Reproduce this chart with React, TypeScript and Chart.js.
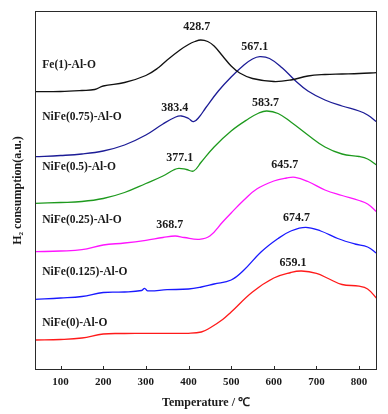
import React, { useEffect, useRef } from "react";
import { Chart, registerables } from "chart.js";

Chart.register(...registerables);

// Temperature (°C) samples and H2 signal (a.u., stacked offsets) for each sample
const fe1T = [40, 100, 150, 180, 200, 250, 300, 330, 350, 380, 400, 415, 428.7, 445, 460, 480, 500, 520, 550, 600, 640, 680, 720, 760, 800, 841];
const fe1V = [278.3, 278.5, 279.5, 280.5, 284, 287.5, 294.5, 302.5, 310, 320, 325.5, 328.5, 330, 328.5, 324, 314, 304, 297, 291.5, 288.5, 290, 294, 295.5, 296, 296.5, 297.3];

const nf075T = [40, 100, 150, 200, 250, 300, 340, 370, 383.4, 400, 412, 425, 440, 470, 500, 530, 550, 567.1, 590, 620, 650, 680, 720, 760, 800, 820, 841];
const nf075V = [213.3, 214.5, 216, 219, 225, 235, 246, 253, 254, 251.5, 248.3, 253, 262, 279, 293, 305, 311, 313.3, 311.5, 302, 289.5, 279, 270, 264, 259, 255, 248.3];

const nf05T = [40, 100, 150, 200, 250, 300, 340, 365, 377.1, 395, 412, 430, 460, 500, 540, 565, 583.7, 610, 640, 680, 720, 760, 800, 820, 841];
const nf05V = [166.7, 167.5, 168.5, 171.5, 177.5, 186.5, 194, 200, 201.7, 200.5, 199, 208, 223, 239, 251, 257, 259, 256.5, 248, 235, 223, 216, 213.5, 211, 205];

const nf025T = [40, 100, 150, 200, 250, 300, 340, 368.7, 390, 425, 450, 480, 500, 530, 560, 600, 630, 650, 680, 720, 760, 800, 820, 841];
const nf025V = [118.3, 119, 120.3, 125, 127, 129.7, 132.5, 134, 132.5, 130.7, 134, 148, 157, 170, 181, 189, 192, 192.7, 188.5, 180, 174.5, 169.5, 166, 158.3];

const nf0125T = [40, 100, 150, 200, 250, 290, 297, 304, 350, 400, 430, 460, 500, 530, 570, 610, 640, 674.7, 710, 750, 790, 820, 841];
const nf0125V = [70.7, 72, 73.5, 77.5, 78, 79.5, 81.7, 79.2, 80.3, 81, 83, 86, 90, 100, 118, 131.5, 139, 142.7, 139, 131.5, 126, 123, 116.7];

const nf0T = [40, 100, 150, 200, 250, 300, 350, 400, 430, 450, 480, 500, 550, 600, 640, 665, 700, 730, 760, 800, 820, 841];
const nf0V = [30, 30.5, 32, 36, 36.5, 36.7, 36.7, 36.7, 38, 42, 50.5, 58, 78, 92, 97.5, 99, 96.6, 91, 85.5, 83.8, 81, 71.7];

const seriesNames = ["Fe(1)-Al-O", "NiFe(0.75)-Al-O", "NiFe(0.5)-Al-O", "NiFe(0.25)-Al-O", "NiFe(0.125)-Al-O", "NiFe(0)-Al-O"];
const peakLabels = ["428.7", "567.1", "383.4", "583.7", "377.1", "645.7", "368.7", "674.7", "659.1"];
const xTickValues = [100, 200, 300, 400, 500, 600, 700, 800];

const colors = ["#111111", "#1c1c96", "#1e9a1e", "#ff14ff", "#1a1aff", "#ff1a1a"];

const FONT = "'Liberation Serif', 'Times New Roman', serif";
const TEXT = "#1a1a1a";

function pts(t: number[], v: number[]) {
  return t.map((x, i) => ({ x, y: v[i] }));
}

// label anchors (data units)
const nameAnchors = [
  { x: 57, y: 305 },
  { x: 57, y: 253 },
  { x: 57, y: 203.3 },
  { x: 57, y: 150 },
  { x: 57, y: 98.3 },
  { x: 57, y: 46.7 },
];
const peakAnchors = [
  { x: 419.4, y: 343.3 },
  { x: 555.4, y: 323.3 },
  { x: 367.9, y: 261.7 },
  { x: 580.4, y: 266.7 },
  { x: 379.6, y: 211.7 },
  { x: 625.7, y: 205 },
  { x: 356.2, y: 145 },
  { x: 653.1, y: 151.7 },
  { x: 645.1, y: 106.7 },
];

const decorPlugin = {
  id: "decor",
  afterDraw(chart: any) {
    const { ctx, chartArea: a, scales } = chart;
    const xs = scales.x;
    const ys = scales.y;
    ctx.save();
    ctx.strokeStyle = "#2a2a2a";
    ctx.lineWidth = 1;
    ctx.strokeRect(a.left + 0.5, a.top + 0.5, a.right - a.left - 1, a.bottom - a.top - 1);
    // inward ticks
    ctx.beginPath();
    xTickValues.forEach((v) => {
      const px = Math.round(xs.getPixelForValue(v)) + 0.5;
      ctx.moveTo(px, a.bottom);
      ctx.lineTo(px, a.bottom - 4);
    });
    ctx.stroke();
    ctx.fillStyle = TEXT;
    ctx.font = `bold 11.5px ${FONT}`;
    ctx.textBaseline = "middle";
    ctx.textAlign = "left";
    seriesNames.forEach((n, i) => {
      ctx.fillText(n, xs.getPixelForValue(nameAnchors[i].x), ys.getPixelForValue(nameAnchors[i].y));
    });
    ctx.font = `bold 12px ${FONT}`;
    ctx.textAlign = "center";
    peakLabels.forEach((n, i) => {
      ctx.fillText(n, xs.getPixelForValue(peakAnchors[i].x), ys.getPixelForValue(peakAnchors[i].y));
    });
    ctx.restore();
  },
};

export default function App() {
  const ref = useRef<HTMLCanvasElement | null>(null);
  useEffect(() => {
    if (!ref.current) return;
    const data = [
      pts(fe1T, fe1V),
      pts(nf075T, nf075V),
      pts(nf05T, nf05V),
      pts(nf025T, nf025V),
      pts(nf0125T, nf0125V),
      pts(nf0T, nf0V),
    ];
    const chart = new Chart(ref.current, {
      type: "line",
      data: {
        datasets: data.map((d, i) => ({
          label: seriesNames[i],
          data: d,
          borderColor: colors[i],
          borderWidth: 1.3,
          pointRadius: 0,
          fill: false,
          tension: 0.4,
        })),
      },
      options: {
        animation: false,
        responsive: false,
        devicePixelRatio: 1,
        layout: { padding: { top: 11, right: 11, left: 0, bottom: 0 } },
        plugins: { legend: { display: false }, tooltip: { enabled: false } },
        scales: {
          x: {
            type: "linear",
            min: 40,
            max: 842,
            afterBuildTicks: (s: any) => {
              s.ticks = xTickValues.map((v) => ({ value: v }));
            },
            afterFit: (s: any) => {
              s.height = 44;
            },
            grid: { display: false, drawTicks: false },
            border: { display: false },
            ticks: {
              padding: 6,
              color: TEXT,
              font: { family: FONT, size: 11, weight: "bold" },
              maxRotation: 0,
            },
            title: {
              display: true,
              text: "Temperature / ℃",
              color: TEXT,
              font: { family: FONT, size: 12, weight: "bold" },
              padding: { top: 0, bottom: 3.5 },
            },
          },
          y: {
            type: "linear",
            min: 0,
            max: 359,
            afterFit: (s: any) => {
              s.width = 35;
            },
            grid: { display: false, drawTicks: false },
            border: { display: false },
            ticks: { display: false },
            title: {
              display: true,
              text: "H₂ consumption(a.u.)",
              color: TEXT,
              font: { family: FONT, size: 12, weight: "bold" },
              padding: { top: 10.5, bottom: 0 },
            },
          },
        },
      },
      plugins: [decorPlugin],
    });
    return () => chart.destroy();
  }, []);
  return (
    <div style={{ position: "fixed", left: 0, top: 0, width: 388, height: 414, background: "#fff" }}>
      <canvas ref={ref} width={388} height={414} style={{ width: 388, height: 414, display: "block" }} />
    </div>
  );
}
